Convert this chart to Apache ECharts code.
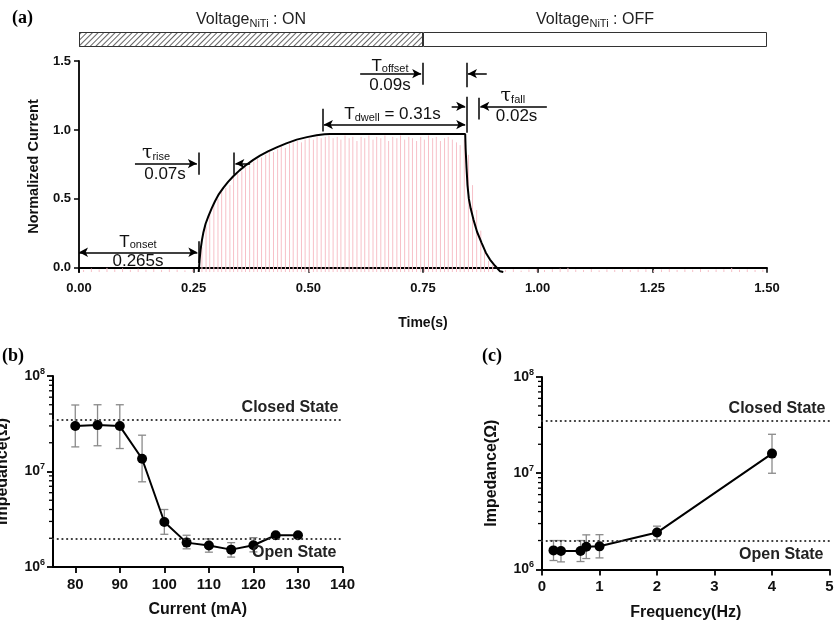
<!DOCTYPE html>
<html lang="en">
<head>
<meta charset="UTF-8">
<title>NiTi switching</title>
<script src="https://cdn.jsdelivr.net/npm/echarts@6/dist/echarts.min.js"></script>
<style>
  html, body { margin: 0; padding: 0; background: #fff; }
</style>
</head>
<body>
<div id="box" style="width:834px;height:623px;"></div>
<script>
// ---- panel (a): normalized current vs time ----
var phaseNames = ['ON', 'OFF'];
var phaseDur = [0.75, 0.75];

// envelope curve [time, current]
var envelope = [
  [0.261, -0.03], [0.263, 0.06], [0.265, 0.13], [0.268, 0.20], [0.271, 0.254], [0.276, 0.32],
  [0.282, 0.374], [0.289, 0.43], [0.2965, 0.483], [0.305, 0.535], [0.3146, 0.58], [0.325, 0.623],
  [0.3364, 0.664], [0.35, 0.707], [0.3656, 0.749], [0.38, 0.783], [0.3946, 0.814], [0.412, 0.845],
  [0.431, 0.874], [0.452, 0.903], [0.4746, 0.930], [0.497, 0.948], [0.518, 0.961], [0.535, 0.968],
  [0.547, 0.971], [0.842, 0.971], [0.843, 0.86], [0.845, 0.72], [0.847, 0.60], [0.850, 0.50],
  [0.854, 0.43], [0.860, 0.35], [0.868, 0.26], [0.878, 0.18], [0.887, 0.11], [0.896, 0.06],
  [0.907, 0.015], [0.918, -0.025], [0.925, -0.03]
];

// raw current spikes [time, peak]
var spikes = [
  [0.010, -0.015], [0.027, -0.005], [0.044, -0.012], [0.061, 0.0], [0.078, -0.01], [0.095, -0.004],
  [0.112, -0.014], [0.129, -0.006], [0.146, -0.012], [0.163, -0.008], [0.180, -0.015], [0.197, -0.009],
  [0.214, -0.013], [0.231, -0.018], [0.248, -0.012],
  [0.268, 0.15], [0.277, 0.30], [0.285, 0.40], [0.294, 0.46], [0.303, 0.50], [0.311, 0.55],
  [0.320, 0.58], [0.329, 0.60], [0.337, 0.66], [0.346, 0.68], [0.355, 0.70], [0.363, 0.73],
  [0.372, 0.74], [0.381, 0.77], [0.389, 0.79], [0.398, 0.80], [0.407, 0.82], [0.415, 0.84],
  [0.424, 0.84], [0.433, 0.86], [0.441, 0.88], [0.450, 0.87], [0.459, 0.90], [0.467, 0.91],
  [0.476, 0.92], [0.485, 0.91], [0.493, 0.93], [0.502, 0.94], [0.511, 0.93], [0.519, 0.95],
  [0.528, 0.94], [0.537, 0.95], [0.545, 0.96], [0.554, 0.94], [0.563, 0.95], [0.571, 0.93],
  [0.580, 0.96], [0.589, 0.94], [0.597, 0.95], [0.606, 0.92], [0.615, 0.95], [0.623, 0.94],
  [0.632, 0.96], [0.641, 0.93], [0.649, 0.95], [0.658, 0.94], [0.667, 0.96], [0.675, 0.92],
  [0.684, 0.95], [0.693, 0.94], [0.701, 0.96], [0.710, 0.93], [0.719, 0.95], [0.727, 0.94],
  [0.736, 0.92], [0.745, 0.95], [0.753, 0.93], [0.762, 0.96], [0.771, 0.94], [0.779, 0.95],
  [0.788, 0.92], [0.797, 0.94], [0.805, 0.95], [0.814, 0.93], [0.823, 0.91], [0.831, 0.89],
  [0.840, 0.93], [0.849, 0.82], [0.858, 0.60], [0.867, 0.42], [0.876, 0.27], [0.884, 0.12],
  [0.893, 0.05], [0.902, 0.02],
  [0.930, -0.015], [0.947, -0.01], [0.964, -0.02], [0.981, -0.012], [0.998, -0.008], [1.015, -0.016],
  [1.032, -0.01], [1.049, -0.005], [1.066, 0.0], [1.083, -0.012], [1.100, -0.015], [1.117, -0.009],
  [1.134, -0.018], [1.151, -0.011], [1.168, -0.014], [1.185, -0.008], [1.202, -0.016], [1.219, -0.012],
  [1.236, -0.01], [1.253, -0.017], [1.270, -0.013], [1.287, -0.008], [1.304, -0.015], [1.321, -0.011],
  [1.338, -0.014], [1.355, -0.009], [1.372, -0.016], [1.389, -0.012], [1.406, -0.01], [1.423, -0.002],
  [1.440, -0.013], [1.457, -0.011], [1.474, -0.015], [1.491, -0.012]
];

// ---- panel (b): impedance vs current ----
var currentMA = [80, 85, 90, 95, 100, 105, 110, 115, 120, 125, 130];
var impCurrent = [2.99e7, 3.06e7, 2.99e7, 1.36e7, 2.96e6, 1.80e6, 1.68e6, 1.52e6, 1.69e6, 2.15e6, 2.15e6];
var impCurrentLo = [1.81e7, 1.86e7, 1.74e7, 7.8e6, 2.2e6, 1.55e6, 1.43e6, 1.27e6, 1.44e6, 2.08e6, 2.08e6];
var impCurrentHi = [4.97e7, 5.0e7, 5.0e7, 2.4e7, 4.0e6, 2.15e6, 1.97e6, 1.80e6, 2.03e6, 2.22e6, 2.22e6];

// ---- panel (c): impedance vs frequency ----
var freqHz = [0.2, 0.33, 0.67, 0.77, 1, 2, 4];
var impFreq = [1.58e6, 1.56e6, 1.56e6, 1.72e6, 1.74e6, 2.42e6, 1.6e7];
var impFreqLo = [1.24e6, 1.2e6, 1.21e6, 1.30e6, 1.32e6, 2.04e6, 1.0e7];
var impFreqHi = [2.0e6, 2.0e6, 2.0e6, 2.29e6, 2.3e6, 2.82e6, 2.54e7];

var closedState = 3.5e7;
var openState = 2.0e6;
var logMinor = [2e6, 3e6, 4e6, 5e6, 6e6, 7e6, 8e6, 9e6, 2e7, 3e7, 4e7, 5e7, 6e7, 7e7, 8e7, 9e7];
var currentTicks = [80, 90, 100, 110, 120, 130, 140];

var FONT = '"Liberation Sans", Arial, sans-serif';
var myChart = echarts.init(document.getElementById('box'));

function zip(a, b, c) {
  return a.map(function (v, i) { return c ? [v, b[i], c[i]] : [v, b[i]]; });
}

function seg(x1, y1, x2, y2, s1, s2) {
  return [{coord: [x1, y1], symbol: s1 || 'none'}, {coord: [x2, y2], symbol: s2 || 'none'}];
}

function note(t, v, text) {
  return {coord: [t, v], label: {formatter: text}};
}

var annoRich = {
  sub: {fontSize: 11, fontFamily: FONT, color: '#111', padding: [7, 0, 0, 0]},
  tau: {fontSize: 19, fontFamily: 'DejaVu Serif', color: '#111'}
};

function spikeRender(params, api) {
  var p0 = api.coord([api.value(0), -0.03]);
  var p1 = api.coord([api.value(0), api.value(1)]);
  return {
    type: 'line',
    shape: {x1: p0[0], y1: p0[1], x2: p1[0], y2: p1[1]},
    style: {stroke: '#f7c0c8', lineWidth: 1}
  };
}

function errRender(params, api) {
  var x = api.value(0);
  var lo = api.coord([x, api.value(1)]);
  var hi = api.coord([x, api.value(2)]);
  var w = 4, st = {stroke: '#8a8a8a', lineWidth: 1.3};
  return {
    type: 'group',
    children: [
      {type: 'line', shape: {x1: lo[0], y1: lo[1], x2: hi[0], y2: hi[1]}, style: st},
      {type: 'line', shape: {x1: lo[0] - w, y1: lo[1], x2: lo[0] + w, y2: lo[1]}, style: st},
      {type: 'line', shape: {x1: hi[0] - w, y1: hi[1], x2: hi[0] + w, y2: hi[1]}, style: st}
    ]
  };
}

// short minor ticks on the left of a log axis
function minorTickRender(params, api) {
  var y = api.coord([api.value(0), api.value(1)])[1];
  var x = params.coordSys.x;
  return {
    type: 'line',
    shape: {x1: x - 4, y1: y, x2: x, y2: y},
    style: {stroke: '#000', lineWidth: 1.3}
  };
}

function logLabel(v) {
  return '10{sup|' + Math.round(Math.log10(v)) + '}';
}

function stateLines() {
  return {
    silent: true,
    symbol: 'none',
    lineStyle: {color: '#333', width: 2.2, type: [0.1, 4.6], cap: 'round'},
    label: {show: true, color: '#222', fontFamily: FONT, fontWeight: 'bold', fontSize: 16},
    data: [
      {yAxis: closedState, label: {position: 'insideEndTop', formatter: 'Closed State', distance: 4}},
      {yAxis: openState, label: {position: 'insideEndBottom', formatter: 'Open State', distance: 6}}
    ]
  };
}

var axisBlack = {lineStyle: {color: '#000', width: 1.8}};
var tickBlack = {show: true, inside: false, length: 5, lineStyle: {color: '#000', width: 1.5}};
var labelBold = {color: '#111', fontFamily: FONT, fontWeight: 'bold', fontSize: 13};
var labelBold14 = {color: '#111', fontFamily: FONT, fontWeight: 'bold', fontSize: 15};
var nameBold = {color: '#111', fontFamily: FONT, fontWeight: 'bold', fontSize: 16};

function logY(grid, name) {
  return {
    type: 'log', gridIndex: grid, min: 1e6, max: 1e8, logBase: 10, position: 'left',
    name: name, nameLocation: 'middle', nameGap: 42, nameTextStyle: nameBold, nameMoveOverlap: false,
    axisLine: {show: true, lineStyle: {color: '#000', width: 2}},
    axisTick: {show: true, inside: false, length: 6, lineStyle: {color: '#000', width: 1.8}},
    axisLabel: {
      color: '#111', fontFamily: FONT, fontWeight: 'bold', fontSize: 14, margin: 8,
      formatter: logLabel,
      rich: {sup: {fontSize: 9, fontFamily: FONT, fontWeight: 'bold', color: '#111', padding: [0, 0, 9, 0]}}
    },
    splitLine: {show: false}
  };
}

var option = {
  animation: false,
  textStyle: {fontFamily: FONT},
  grid: [
    {left: 79, top: 61, width: 688, height: 211, outerBoundsMode: 'none'},
    {left: 53, top: 376, width: 289.5, height: 191, outerBoundsMode: 'none'},
    {left: 542, top: 377, width: 287.5, height: 192.5, outerBoundsMode: 'none'},
    {left: 79, top: 32, width: 688, height: 15, outerBoundsMode: 'none'}
  ],
  graphic: [
    {type: 'text', left: 12, top: 9, style: {text: '(a)', font: 'bold 18px "Liberation Serif"', fill: '#000'}},
    {type: 'text', left: 2, top: 347, style: {text: '(b)', font: 'bold 18px "Liberation Serif"', fill: '#000'}},
    {type: 'text', left: 482, top: 347, style: {text: '(c)', font: 'bold 18px "Liberation Serif"', fill: '#000'}}
  ],
  xAxis: [
    {
      type: 'value', gridIndex: 0, min: 0, max: 1.5, interval: 0.25,
      name: 'Time(s)', nameLocation: 'middle', nameGap: 44, nameTextStyle: {color: '#111', fontWeight: 'bold', fontSize: 14}, nameMoveOverlap: false,
      axisLine: axisBlack, axisTick: tickBlack,
      axisLabel: Object.assign({margin: 10, formatter: function (v) { return v.toFixed(2); }}, labelBold),
      splitLine: {show: false}
    },
    {
      type: 'value', gridIndex: 1, min: 75, max: 140,
      name: 'Current (mA)', nameLocation: 'middle', nameGap: 35, nameTextStyle: nameBold, nameMoveOverlap: false,
      axisLine: {lineStyle: {color: '#000', width: 2}},
      axisTick: {show: true, inside: false, length: 6, customValues: currentTicks, lineStyle: {color: '#000', width: 1.8}},
      axisLabel: Object.assign({margin: 10, customValues: currentTicks}, labelBold14),
      splitLine: {show: false}
    },
    {
      type: 'value', gridIndex: 2, min: 0, max: 5, interval: 1,
      name: 'Frequency(Hz)', nameLocation: 'middle', nameGap: 35, nameTextStyle: nameBold, nameMoveOverlap: false,
      axisLine: {lineStyle: {color: '#000', width: 2}},
      axisTick: {show: true, inside: false, length: 6, lineStyle: {color: '#000', width: 1.8}},
      axisLabel: Object.assign({margin: 10, showMaxLabel: true}, labelBold14),
      splitLine: {show: false}
    },
    {type: 'value', gridIndex: 3, min: 0, max: 1.5, show: false}
  ],
  yAxis: [
    {
      type: 'value', gridIndex: 0, min: -0.03, max: 1.5,
      name: 'Normalized Current', nameLocation: 'middle', nameGap: 38, nameTextStyle: {color: '#111', fontWeight: 'bold', fontSize: 14.5}, nameMoveOverlap: false,
      axisLine: {show: true, lineStyle: {color: '#000', width: 1.8}},
      axisTick: Object.assign({customValues: [0, 0.5, 1, 1.5]}, tickBlack),
      axisLabel: Object.assign({margin: 8, customValues: [0, 0.5, 1, 1.5], formatter: function (v) { return v.toFixed(1); }}, labelBold),
      splitLine: {show: false}
    },
    logY(1, 'Impedance(\u03a9)'),
    logY(2, 'Impedance(\u03a9)'),
    {type: 'category', gridIndex: 3, data: ['v'], show: false}
  ],
  series: [
    {
      name: 'spikes', type: 'custom', xAxisIndex: 0, yAxisIndex: 0,
      renderItem: spikeRender, data: spikes, clip: true, silent: true, z: 1
    },
    {
      name: 'envelope', type: 'line', xAxisIndex: 0, yAxisIndex: 0,
      data: envelope, showSymbol: false, symbol: 'none', smooth: false,
      lineStyle: {color: '#000', width: 2}, z: 3,
      markLine: {
        silent: true, symbolSize: [7, 9], animation: false,
        lineStyle: {color: '#000', width: 1.5, type: 'solid'},
        label: {show: false},
        data: [
          seg(0, 0.113, 0.258, 0.113, 'arrow', 'arrow'),
          seg(0.261, 0.036, 0.261, 0.193),
          seg(0.122, 0.756, 0.257, 0.756, 'none', 'arrow'),
          seg(0.261, 0.676, 0.261, 0.836),
          seg(0.338, 0.676, 0.338, 0.836),
          seg(0.373, 0.756, 0.341, 0.756, 'none', 'arrow'),
          seg(0.613, 1.408, 0.746, 1.408, 'none', 'arrow'),
          seg(0.749, 1.328, 0.749, 1.488),
          seg(0.845, 1.31, 0.845, 1.488),
          seg(0.889, 1.408, 0.848, 1.408, 'none', 'arrow'),
          seg(0.531, 0.988, 0.531, 1.154),
          seg(0.534, 1.039, 0.842, 1.039, 'arrow', 'arrow'),
          seg(0.845, 0.98, 0.845, 1.241),
          seg(0.8125, 1.171, 0.842, 1.171, 'none', 'arrow'),
          seg(0.872, 1.075, 0.872, 1.234),
          seg(1.02, 1.171, 0.875, 1.171, 'none', 'arrow')
        ]
      },
      markPoint: {
        silent: true, symbol: 'circle', symbolSize: 0, animation: false,
        label: {show: true, position: 'inside', color: '#111', fontFamily: FONT, fontSize: 17, rich: annoRich},
        data: [
          note(0.1286, 0.188, 'T{sub|onset}'),
          note(0.1286, 0.046, '0.265s'),
          note(0.168, 0.833, '{tau|\u03c4}{sub|rise}'),
          note(0.1875, 0.681, '0.07s'),
          note(0.678, 1.464, 'T{sub|offset}'),
          note(0.678, 1.327, '0.09s'),
          note(0.6835, 1.112, 'T{sub|dwell} = 0.31s'),
          note(0.946, 1.246, '{tau|\u03c4}{sub|fall}'),
          note(0.954, 1.096, '0.02s')
        ]
      }
    },
    {
      name: 'ON', type: 'bar', xAxisIndex: 3, yAxisIndex: 3, stack: 'v',
      data: [phaseDur[0]], barWidth: '100%', silent: true,
      itemStyle: {
        color: '#fff', borderColor: '#333', borderWidth: 1,
        decal: {symbol: 'rect', symbolSize: 1, dashArrayX: [1, 0], dashArrayY: [1, 2.2], rotation: -Math.PI / 4, color: '#666'}
      },
      label: {
        show: true, position: 'top', distance: 3, color: '#222', fontSize: 16,
        formatter: 'Voltage{sub|NiTi} : ' + phaseNames[0],
        rich: {sub: {fontSize: 11, color: '#222', padding: [7, 0, 0, 0]}}
      }
    },
    {
      name: 'OFF', type: 'bar', xAxisIndex: 3, yAxisIndex: 3, stack: 'v',
      data: [phaseDur[1]], barWidth: '100%', silent: true,
      itemStyle: {color: '#fff', borderColor: '#333', borderWidth: 1},
      label: {
        show: true, position: 'top', distance: 3, color: '#222', fontSize: 16,
        formatter: 'Voltage{sub|NiTi} : ' + phaseNames[1],
        rich: {sub: {fontSize: 11, color: '#222', padding: [7, 0, 0, 0]}}
      }
    },
    {
      name: 'minorB', type: 'custom', xAxisIndex: 1, yAxisIndex: 1, clip: false, silent: true,
      renderItem: minorTickRender, data: logMinor.map(function (v) { return [currentTicks[0], v]; })
    },
    {
      name: 'errB', type: 'custom', xAxisIndex: 1, yAxisIndex: 1,
      renderItem: errRender, data: zip(currentMA, impCurrentLo, impCurrentHi), z: 2, silent: true
    },
    {
      name: 'impB', type: 'line', xAxisIndex: 1, yAxisIndex: 1,
      data: zip(currentMA, impCurrent), symbol: 'circle', symbolSize: 10,
      itemStyle: {color: '#000'}, lineStyle: {color: '#000', width: 2}, z: 3,
      markLine: stateLines()
    },
    {
      name: 'minorC', type: 'custom', xAxisIndex: 2, yAxisIndex: 2, clip: false, silent: true,
      renderItem: minorTickRender, data: logMinor.map(function (v) { return [freqHz[0], v]; })
    },
    {
      name: 'errC', type: 'custom', xAxisIndex: 2, yAxisIndex: 2,
      renderItem: errRender, data: zip(freqHz, impFreqLo, impFreqHi), z: 2, silent: true
    },
    {
      name: 'impC', type: 'line', xAxisIndex: 2, yAxisIndex: 2,
      data: zip(freqHz, impFreq), symbol: 'circle', symbolSize: 10,
      itemStyle: {color: '#000'}, lineStyle: {color: '#000', width: 2}, z: 3,
      markLine: stateLines()
    }
  ]
};

myChart.setOption(option);
</script>
</body>
</html>
